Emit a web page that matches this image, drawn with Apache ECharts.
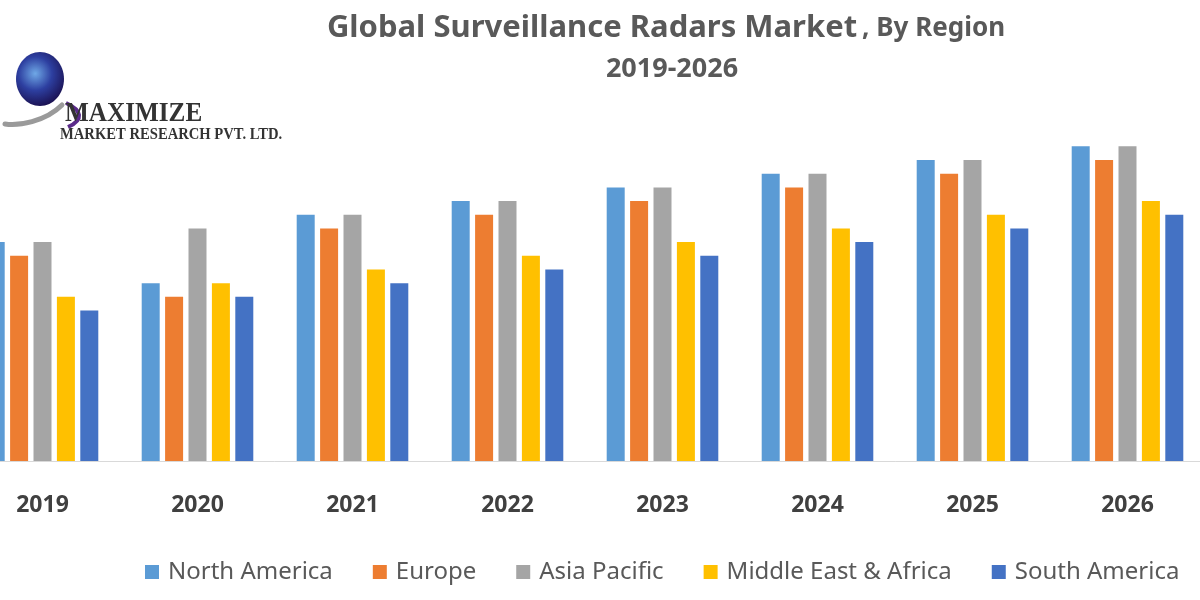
<!DOCTYPE html>
<html>
<head>
<meta charset="utf-8">
<script src="https://cdn.jsdelivr.net/npm/echarts@6/dist/echarts.min.js"></script>
<style>
html,body{margin:0;padding:0;background:#fff;overflow:hidden;width:1200px;height:600px;}
#chart{position:absolute;left:-35px;top:0;width:1240px;height:600px;}
</style>
</head>
<body>
<div id="chart"></div>
<script>
const categories = ['2019','2020','2021','2022','2023','2024','2025','2026'];
const seriesNames = ['North America','Europe','Asia Pacific','Middle East & Africa','South America'];
const northAmerica = [16,13,18,19,20,21,22,23];
const europe       = [15,12,17,18,19,20,21,22];
const asiaPacific  = [16,17,18,19,20,21,22,23];
const middleEastAfrica = [12,13,14,15,16,17,18,19];
const southAmerica = [11,12,13,14,15,16,17,18];
const colors = ['#5B9BD5','#ED7D31','#A5A5A5','#FFC000','#4472C4'];
const seriesData = [northAmerica, europe, asiaPacific, middleEastAfrica, southAmerica];

// container is shifted 35px left so the first category is partly cut off as in the reference
const OX = 35;
const chart = echarts.init(document.getElementById('chart'));
const option = {
  backgroundColor: '#ffffff',
  animation: false,
  color: colors,
  title: [{
    text: '{a|Global Surveillance Radars Market} {b|, By Region}',
    left: 661 + OX, top: 8, textAlign: 'center',
    textStyle: {
      rich: {
        a: {fontFamily: 'Noto Sans', fontWeight: 'bold', fontSize: 31, color: '#595959'},
        b: {fontFamily: 'Noto Sans', fontWeight: 'bold', fontSize: 26, color: '#595959'}
      }
    }
  }, {
    text: '2019-2026',
    left: 667 + OX, top: 51, textAlign: 'center',
    textStyle: {fontFamily: 'Noto Sans', fontWeight: 'bold', fontSize: 27, color: '#595959'}
  }],
  legend: {
    data: seriesNames,
    left: 140 + OX, top: 555,
    icon: 'rect', itemWidth: 14, itemHeight: 14, itemGap: 40,
    textStyle: {fontFamily: 'Noto Sans', fontSize: 24, color: '#595959', padding: [0,0,0,4]}
  },
  grid: {left: 0, right: 0, top: 119, bottom: 139, containLabel: false},
  xAxis: {
    type: 'category', data: categories,
    axisLine: {lineStyle: {color: '#d9d9d9', width: 1}},
    axisTick: {show: false},
    axisLabel: {margin: 33, fontFamily: 'Noto Sans', fontWeight: 'bold', fontSize: 23, color: '#404040'}
  },
  yAxis: {
    type: 'value', min: 0, max: 25, show: false, splitLine: {show: false}
  },
  series: seriesNames.map((n, i) => ({
    name: n, type: 'bar', data: seriesData[i],
    barWidth: 18, barGap: '30%',
    itemStyle: {color: colors[i]}
  })),
  graphic: [
    {type: 'bezierCurve', z: 1,
     shape: {x1: 62 + OX, y1: 105, cpx1: 45 + OX, cpy1: 122, cpx2: 18 + OX, cpy2: 126, x2: 5 + OX, y2: 124},
     style: {stroke: '#9a9a9a', lineWidth: 5, fill: 'none', lineCap: 'round'}},
    {type: 'ellipse', shape: {cx: 40 + OX, cy: 79, rx: 24, ry: 27}, z: 2,
     style: {fill: new echarts.graphic.RadialGradient(0.4, 0.4, 0.7, [
       {offset: 0, color: '#6fa8e6'}, {offset: 0.5, color: '#2d3fa0'}, {offset: 1, color: '#1a1050'}])}},
    {type: 'bezierCurve', z: 2,
     shape: {x1: 66 + OX, y1: 103, cpx1: 82 + OX, cpy1: 110, cpx2: 84 + OX, cpy2: 120, x2: 68 + OX, y2: 127},
     style: {stroke: '#5a2a8a', lineWidth: 4, fill: 'none'}},
    {type: 'text', x: 65 + OX, y: 100, z: 3, scaleX: 0.9, originX: 0,
     style: {text: 'MAXIMIZE', fontFamily: 'Liberation Serif', fontWeight: 'bold', fontSize: 28, fill: '#333', textVerticalAlign: 'top'}},
    {type: 'text', x: 60 + OX, y: 126, z: 3, scaleX: 0.86, originX: 0,
     style: {text: 'MARKET RESEARCH PVT. LTD.', fontFamily: 'Liberation Serif', fontWeight: 'bold', fontSize: 17, fill: '#333', textVerticalAlign: 'top'}}
  ]
};
chart.setOption(option);
</script>
</body>
</html>
